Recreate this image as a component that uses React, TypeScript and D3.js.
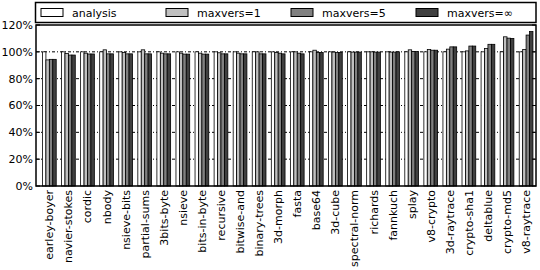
import * as d3 from 'd3';

const categories = [
	'earley-boyer', 'navier-stokes', 'cordic', 'nbody', 'nsieve-bits', 'partial-sums',
	'3bits-byte', 'nsieve', 'bits-in-byte', 'recursive', 'bitwise-and', 'binary-trees',
	'3d-morph', 'fasta', 'base64', '3d-cube', 'spectral-norm', 'richards', 'fannkuch',
	'splay', 'v8-crypto', '3d-raytrace', 'crypto-sha1', 'deltablue', 'crypto-md5', 'v8-raytrace',
];

const seriesNames = ['analysis', 'maxvers=1', 'maxvers=5', 'maxvers=∞'];
const seriesColors = ['#ffffff', '#c0c0c0', '#808080', '#404040'];

const analysis = [100, 100, 100, 100, 100, 100, 100, 100, 100, 100, 100, 100, 100, 100, 100, 100, 100, 100, 100, 100, 100, 100, 100, 100, 100, 100];
const maxvers1 = [94, 98.8, 99, 101.5, 99.5, 101.5, 99, 99, 99, 99.3, 99, 100, 99.5, 100, 101.2, 99.8, 99.8, 100, 99.8, 101.5, 101.7, 102, 100.7, 102.5, 111.2, 101.8];
const maxvers5 = [94.4, 97.6, 98.4, 98.5, 98.5, 98.5, 98.5, 98.3, 98.3, 98.5, 98.5, 98.5, 99, 99, 99.5, 99.5, 99.8, 99.8, 99.8, 100.2, 101.2, 103.7, 104.3, 105.6, 110.2, 112.5];
const maxversInf = [94.4, 97.6, 98.4, 98.5, 98.5, 98.5, 98.5, 98.3, 98.3, 98.5, 98.5, 98.5, 98.5, 98.5, 99.5, 99.5, 99.8, 99.8, 100, 100.2, 101.2, 103.7, 104.3, 105.6, 110, 115.1];
const series = [analysis, maxvers1, maxvers5, maxversInf];

const yTicks = [0, 20, 40, 60, 80, 100, 120];

const W = 540;
const H = 270;
const left = 36;
const right = 536;
const top = 25;
const bottom = 186;
const barW = 0.18;

export default function App() {
	const x = d3.scaleLinear().domain([-0.7, 25.52]).range([left, right]);
	const y = d3.scaleLinear().domain([0, 120]).range([bottom, top]);
	const font = 'DejaVu Sans, sans-serif';
	const colW = (right - left) / 4;

	return (
		<svg
			width={W}
			height={H}
			style={{ position: 'absolute', left: 0, top: 0, background: '#fff' }}
			fontFamily={font}
		>
			{/* legend */}
			<rect x={left - 0.5} y={2.5} width={right - left + 0.5} height={20} fill='#fff' stroke='#000' strokeWidth={1.5} />
			{seriesNames.map((name, i) => (
				<g key={name} transform={`translate(${left + 5 + i * colW},0)`}>
					<rect x={0} y={8.5} width={22} height={8} fill={seriesColors[i]} stroke='#000' strokeWidth={1} />
					<text x={31} y={16.5} fontSize={11}>{name}</text>
				</g>
			))}

			{/* grid */}
			{yTicks.filter((t) => t > 0 && t < 120).map((t) => (
				<line key={t} x1={left} x2={right} y1={y(t)} y2={y(t)} stroke='#000' strokeWidth={1} strokeDasharray='3,2,1,2' />
			))}

			{/* bars */}
			{categories.map((c, i) => (
				<g key={c}>
					{series.map((s, k) => {
						const x0 = x(i + (k - 2) * barW);
						const x1 = x(i + (k - 1) * barW);
						return (
							<rect
								key={k}
								x={x0}
								y={y(s[i])}
								width={x1 - x0}
								height={y(0) - y(s[i])}
								fill={seriesColors[k]}
								stroke='#000'
								strokeWidth={0.8}
							/>
						);
					})}
				</g>
			))}

			{/* frame */}
			<rect x={left} y={top} width={right - left} height={bottom - top} fill='none' stroke='#000' strokeWidth={1.5} />

			{/* y ticks */}
			{yTicks.map((t) => (
				<g key={t}>
					<line x1={left} x2={left + 4} y1={y(t)} y2={y(t)} stroke='#000' />
					<line x1={right - 4} x2={right} y1={y(t)} y2={y(t)} stroke='#000' />
					<text x={left - 3} y={y(t)} dy='0.35em' textAnchor='end' fontSize={11}>{t}%</text>
				</g>
			))}

			{/* x labels */}
			{categories.map((c, i) => (
				<text
					key={c}
					transform={`translate(${x(i) + 4},${bottom + 4}) rotate(-90)`}
					textAnchor='end'
					fontSize={11}
				>
					{c}
				</text>
			))}
		</svg>
	);
}
